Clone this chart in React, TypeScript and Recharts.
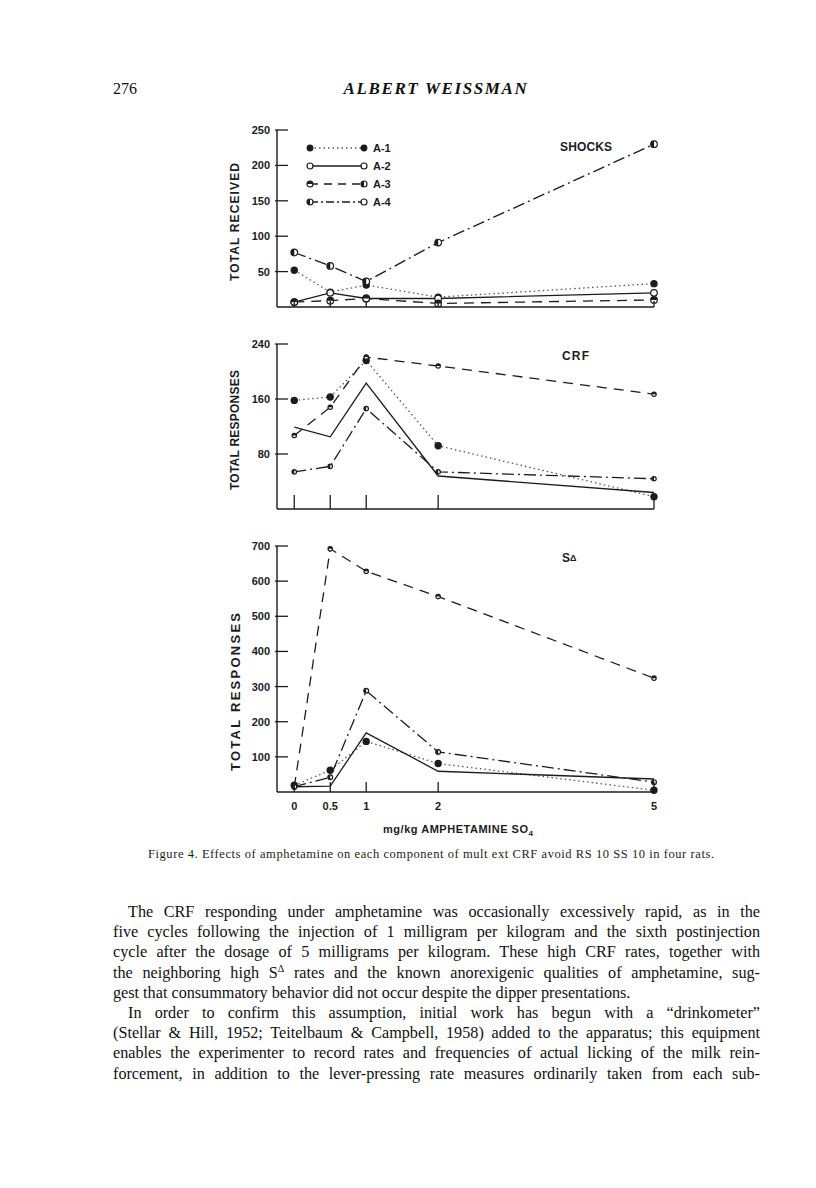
import React from "react";
import { LineChart, Line, XAxis, YAxis } from "recharts";

// dose of amphetamine (mg/kg) on the x axis
const doses = [0, 0.5, 1, 2, 5];
const doseLabels = ["0", "0.5", "1", "2", "5"];
const rats = ["A-1", "A-2", "A-3", "A-4"];

// SHOCKS, total received
const shocksA1 = [52, 21, 31, 14, 33];
const shocksA2 = [7, 20, 12, 12, 20];
const shocksA3 = [7, 9, 12, 5, 10];
const shocksA4 = [77, 58, 36, 91, 230];

// CRF, total responses
const crfA1 = [158, 163, 216, 92, 18];
const crfA2 = [119, 105, 183, 48, 24];
const crfA3 = [107, 148, 221, 208, 167];
const crfA4 = [54, 62, 146, 54, 44];

// S-delta, total responses
const sdA1 = [19, 62, 144, 81, 5];
const sdA2 = [15, 17, 168, 59, 37];
const sdA3 = [14, 692, 628, 556, 324];
const sdA4 = [15, 42, 288, 114, 28];

const shockTicks = [50, 100, 150, 200, 250];
const crfTicks = [80, 160, 240];
const sdTicks = [100, 200, 300, 400, 500, 600, 700];

type Row = { dose: number; a1: number; a2: number; a3: number; a4: number };

const toRows = (a1: number[], a2: number[], a3: number[], a4: number[]): Row[] =>
  doses.map((d, i) => ({ dose: d, a1: a1[i], a2: a2[i], a3: a3[i], a4: a4[i] }));

const shocksData = toRows(shocksA1, shocksA2, shocksA3, shocksA4);
const crfData = toRows(crfA1, crfA2, crfA3, crfA4);
const sdData = toRows(sdA1, sdA2, sdA3, sdA4);

const INK = "#1c1c1c";
const LABEL_FONT = "'Liberation Sans', Arial, sans-serif";

type MarkKind = "filled" | "open" | "halfTop" | "halfLeft" | "none";

const Marker = ({ cx, cy, kind, r = 3.3 }: { cx: number; cy: number; kind: MarkKind; r?: number }) => {
  if (kind === "none" || cx == null || cy == null) return <g />;
  if (kind === "filled") return <circle cx={cx} cy={cy} r={r + 0.4} fill={INK} />;
  if (kind === "open")
    return <circle cx={cx} cy={cy} r={r} fill="#fff" stroke={INK} strokeWidth={1.2} />;
  const half =
    kind === "halfTop"
      ? `M${cx - r},${cy} A${r},${r} 0 0 1 ${cx + r},${cy} Z`
      : `M${cx},${cy - r} A${r},${r} 0 0 0 ${cx},${cy + r} Z`;
  return (
    <g>
      <circle cx={cx} cy={cy} r={r} fill="#fff" stroke={INK} strokeWidth={1.2} />
      <path d={half} fill={INK} />
    </g>
  );
};

// line style per rat
const styles = [
  { key: "a1", dash: "1.5 3", width: 1.3, color: "#555" },
  { key: "a2", dash: undefined, width: 1.3, color: INK },
  { key: "a3", dash: "10 7", width: 1.3, color: INK },
  { key: "a4", dash: "12 4 2 4", width: 1.3, color: INK },
];

const YTick = (props: any) => {
  const { x, y, payload } = props;
  return (
    <g>
      <line x1={x - 2} y1={y} x2={x + 11} y2={y} stroke={INK} strokeWidth={1.3} />
      <text
        x={x - 7}
        y={y}
        dy={4}
        textAnchor="end"
        fontSize={11}
        fontWeight="bold"
        fontFamily={LABEL_FONT}
        fill={INK}
      >
        {payload.value}
      </text>
    </g>
  );
};

const XTick = (props: any) => {
  const { x, y, index, len, showLabel } = props;
  return (
    <g>
      <line x1={x} y1={y} x2={x} y2={y - len} stroke={INK} strokeWidth={1.3} />
      {showLabel && (
        <text
          x={x}
          y={y + 18}
          textAnchor="middle"
          fontSize={11}
          fontWeight="bold"
          fontFamily={LABEL_FONT}
          fill={INK}
        >
          {doseLabels[index]}
        </text>
      )}
    </g>
  );
};

type PanelProps = {
  top: number;
  plotH: number;
  xAxisH: number;
  data: Row[];
  yMax: number;
  yTicks: number[];
  tickLen: number;
  showX: boolean;
  marks: MarkKind[];
  markR: number[];
};

const Panel = ({ top, plotH, xAxisH, data, yMax, yTicks, tickLen, showX, marks, markR }: PanelProps) => (
  <div style={{ position: "absolute", left: 200, top }}>
    <LineChart
      width={484}
      height={20 + plotH + xAxisH}
      data={data}
      margin={{ top: 20, right: 30, bottom: 0, left: 0 }}
    >
      <XAxis
        dataKey="dose"
        type="number"
        domain={[-0.24, 5]}
        ticks={doses}
        interval={0}
        height={xAxisH}
        tickSize={0}
        tickMargin={0}
        tickLine={false}
        axisLine={{ stroke: INK, strokeWidth: 1.4 }}
        tick={(p: any) => <XTick {...p} len={tickLen} showLabel={showX} />}
      />
      <YAxis
        type="number"
        domain={[0, yMax]}
        ticks={yTicks}
        interval={0}
        width={77}
        tickSize={0}
        tickMargin={0}
        tickLine={false}
        axisLine={{ stroke: INK, strokeWidth: 1.4 }}
        tick={(p: any) => <YTick {...p} />}
      />
      {styles.map((s, i) => (
        <Line
          key={s.key}
          dataKey={s.key}
          type="linear"
          stroke={s.color}
          strokeWidth={s.width}
          strokeDasharray={s.dash}
          isAnimationActive={false}
          dot={(p: any) => (
            <Marker key={`${s.key}-${p.index}`} cx={p.cx} cy={p.cy} kind={marks[i]} r={markR[i]} />
          )}
          activeDot={false}
        />
      ))}
    </LineChart>
  </div>
);

const LegendBox = () => {
  const kindsL: MarkKind[] = ["filled", "open", "halfTop", "halfLeft"];
  const kindsR: MarkKind[] = ["filled", "open", "halfLeft", "open"];
  return (
    <svg
      width={110}
      height={72}
      style={{ position: "absolute", left: 300, top: 140 }}
    >
      {rats.map((name, i) => {
        const y = 8 + i * 18;
        const s = styles[i];
        return (
          <g key={name}>
            <line
              x1={10}
              y1={y}
              x2={64}
              y2={y}
              stroke={s.color}
              strokeWidth={s.width}
              strokeDasharray={s.key === "a3" ? "8 6" : s.key === "a4" ? "8 3 2 3" : s.dash}
            />
            <Marker cx={10} cy={y} kind={kindsL[i]} r={3} />
            <Marker cx={64} cy={y} kind={kindsR[i]} r={3} />
            <text x={73} y={y + 4} fontSize={11} fontWeight="bold" fontFamily={LABEL_FONT} fill={INK}>
              {name}
            </text>
          </g>
        );
      })}
    </svg>
  );
};

const Annotations = () => (
  <svg width={816} height={880} style={{ position: "absolute", left: 0, top: 0, pointerEvents: "none" }}>
    <g fontFamily={LABEL_FONT} fontWeight="bold" fill={INK}>
      <text
        x={0}
        y={0}
        transform="translate(239,222) rotate(-90)"
        textAnchor="middle"
        fontSize={12}
        textLength={118}
        lengthAdjust="spacing"
      >
        TOTAL RECEIVED
      </text>
      <text
        x={0}
        y={0}
        transform="translate(239,430) rotate(-90)"
        textAnchor="middle"
        fontSize={12}
        textLength={120}
        lengthAdjust="spacing"
      >
        TOTAL RESPONSES
      </text>
      <text
        x={0}
        y={0}
        transform="translate(240,692) rotate(-90)"
        textAnchor="middle"
        fontSize={13}
        textLength={158}
        lengthAdjust="spacing"
      >
        TOTAL RESPONSES
      </text>
      <text x={560} y={151} fontSize={12} textLength={52} lengthAdjust="spacing">
        SHOCKS
      </text>
      <text x={562} y={360} fontSize={12} textLength={27} lengthAdjust="spacing">
        CRF
      </text>
      <text x={562} y={562} fontSize={12}>
        S<tspan fontSize={9} dy={-1}>Δ</tspan>
      </text>
      <text x={383} y={833} fontSize={11} textLength={150} lengthAdjust="spacing">
        mg/kg AMPHETAMINE SO<tspan fontSize={8} dy={3}>4</tspan>
      </text>
    </g>
    <text
      x={148}
      y={858}
      fontSize={12.5}
      fontFamily="'Liberation Serif', 'Times New Roman', serif"
      fill={INK}
      textLength={566}
      lengthAdjust="spacing"
    >
      Figure 4. Effects of amphetamine on each component of mult ext CRF avoid RS 10 SS 10 in four rats.
    </text>
  </svg>
);

const bodyLines: { text: React.ReactNode; indent?: boolean; last?: boolean }[] = [
  { text: "The CRF responding under amphetamine was occasionally excessively rapid, as in the", indent: true },
  { text: "five cycles following the injection of 1 milligram per kilogram and the sixth postinjection" },
  { text: "cycle after the dosage of 5 milligrams per kilogram. These high CRF rates, together with" },
  {
    text: (
      <>
        the neighboring high S<sup style={{ fontSize: 10, verticalAlign: "6px", lineHeight: 0 }}>Δ</sup> rates and
        the known anorexigenic qualities of amphetamine, sug-
      </>
    ),
  },
  { text: "gest that consummatory behavior did not occur despite the dipper presentations.", last: true },
  { text: "In order to confirm this assumption, initial work has begun with a \u201Cdrinkometer\u201D", indent: true },
  { text: "(Stellar & Hill, 1952; Teitelbaum & Campbell, 1958) added to the apparatus; this equipment" },
  { text: "enables the experimenter to record rates and frequencies of actual licking of the milk rein-" },
  { text: "forcement, in addition to the lever-pressing rate measures ordinarily taken from each sub-" },
];

const App = () => (
  <div
    style={{
      position: "relative",
      width: 816,
      height: 1188,
      margin: -8,
      background: "#fff",
      color: "#111",
      fontFamily: "'Liberation Serif', 'Times New Roman', serif",
      overflow: "hidden",
    }}
  >
    <div style={{ position: "absolute", left: 113, top: 80, fontSize: 16 }}>276</div>
    <div
      style={{
        position: "absolute",
        left: 326,
        top: 79,
        width: 220,
        textAlign: "center",
        fontSize: 17,
        fontStyle: "italic",
        fontWeight: "bold",
        letterSpacing: 1.6,
      }}
    >
      ALBERT WEISSMAN
    </div>

    <Panel
      top={110}
      plotH={177}
      xAxisH={10}
      data={shocksData}
      yMax={250}
      yTicks={shockTicks}
      tickLen={6}
      showX={false}
      marks={["filled", "open", "halfTop", "halfLeft"]}
      markR={[3.3, 3.3, 3.3, 3.3]}
    />
    <Panel
      top={324}
      plotH={165}
      xAxisH={10}
      data={crfData}
      yMax={240}
      yTicks={crfTicks}
      tickLen={14}
      showX={false}
      marks={["filled", "none", "halfTop", "halfLeft"]}
      markR={[3.3, 2, 2.2, 2.2]}
    />
    <Panel
      top={526}
      plotH={246}
      xAxisH={30}
      data={sdData}
      yMax={700}
      yTicks={sdTicks}
      tickLen={10}
      showX={true}
      marks={["filled", "none", "halfTop", "halfLeft"]}
      markR={[3.3, 2, 2.2, 2.4]}
    />
    <LegendBox />
    <Annotations />

    {bodyLines.map((l, i) => (
      <div
        key={i}
        style={{
          position: "absolute",
          left: 113,
          top: 902 + i * 20.2,
          width: 647,
          height: 20,
          lineHeight: "20px",
          fontSize: 16.2,
          textIndent: l.indent ? 15 : 0,
          textAlign: l.last ? "left" : "justify",
          textAlignLast: l.last ? "left" : "justify",
        }}
      >
        {l.text}
      </div>
    ))}
  </div>
);

export default App;
